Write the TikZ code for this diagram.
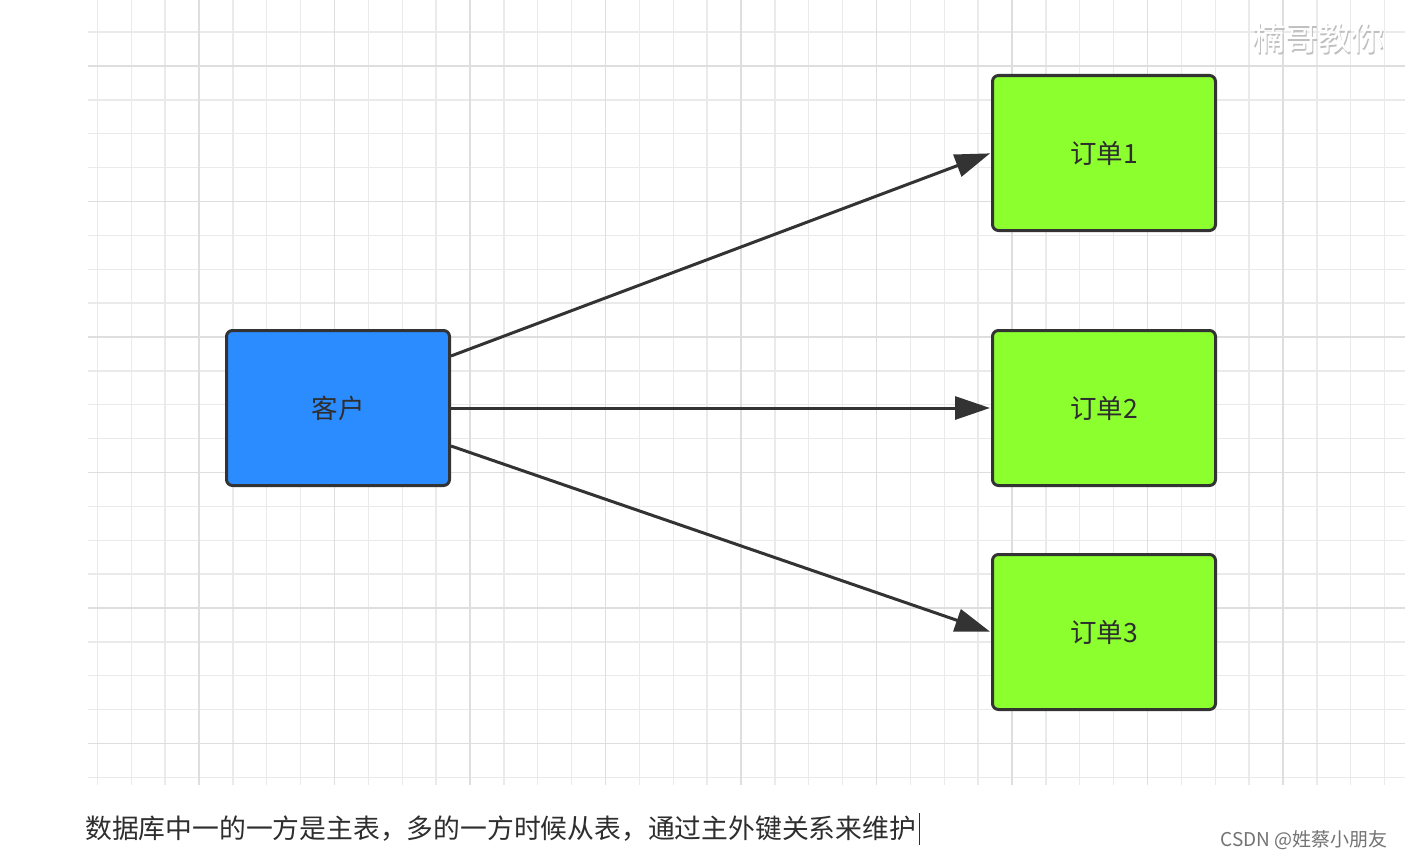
\documentclass[tikz,border=0pt]{standalone}
\usepackage{fontspec}
\newfontfamily\cjk{Noto Sans CJK SC}
\usetikzlibrary{arrows.meta,calc}
\definecolor{gridminor}{HTML}{EAEAEA}
\definecolor{gridmajor}{HTML}{DEDEDE}
\definecolor{boxblue}{HTML}{2B8CFF}
\definecolor{boxgreen}{HTML}{8CFF2E}
\definecolor{edge}{HTML}{333333}
\definecolor{textdark}{HTML}{2E2E2E}
\tikzset{
  tablebox/.style={draw=edge, line width=3pt, rounded corners=6pt,
    minimum width=223pt, minimum height=155pt, inner sep=0pt,
    font=\cjk\fontsize{26.5}{30}\selectfont, text=textdark},
  customer/.style={tablebox, fill=boxblue},
  order/.style={tablebox, fill=boxgreen},
  link/.style={draw=edge, line width=3pt, -{Triangle[length=35pt,width=23pt]}, shorten >=1pt},
}
\begin{document}
\begin{tikzpicture}[x=1pt,y=-1pt]
\useasboundingbox (0,0) rectangle (1405,859);
\fill[white] (0,0) rectangle (1405,859);
% grid
\begin{scope}
\clip (88,0) rectangle (1405,785);
\foreach \i in {-4,...,36} {
  \draw[gridminor, line width=1.3pt] ({199+\i*33.875},0) -- ({199+\i*33.875},785);
}
\foreach \i in {-2,...,22} {
  \draw[gridminor, line width=1.3pt] (88,{66+\i*33.875}) -- (1405,{66+\i*33.875});
}
\foreach \i in {-1,...,9} {
  \draw[gridmajor, line width=1.6pt] ({199+\i*135.5},0) -- ({199+\i*135.5},785);
}
\foreach \i in {0,...,5} {
  \draw[gridmajor, line width=1.6pt] (88,{66+\i*135.5}) -- (1405,{66+\i*135.5});
}
\end{scope}
% watermark top right
\node[anchor=west, text=black!25, font=\cjk\fontsize{33}{36}\selectfont, inner sep=0pt] (wmshadow) at (1253.5,39.5) {楠哥教你};
\node[anchor=west, text=white, font=\cjk\fontsize{33}{36}\selectfont, inner sep=0pt] (wm) at (1252,38) {楠哥教你};
% nodes
\node[customer] (kh) at (338,408) {客户};
\node[order] (d1) at (1104,153) {订单1};
\node[order] (d2) at (1104,408) {订单2};
\node[order] (d3) at (1104,632) {订单3};
% connectors
\draw[link] ([yshift=52pt]kh.east) -- (d1.west);
\draw[link] (kh.east) -- (d2.west);
\draw[link] ([yshift=-38pt]kh.east) -- (d3.west);
% caption
\node[anchor=base west, inner sep=0pt, text=textdark, font=\cjk\fontsize{26.8}{30}\selectfont] (cap) at (85,838) {数据库中一的一方是主表，多的一方时候从表，通过主外键关系来维护};
\coordinate (cur) at ($(cap.base east)+(3,0)$);
\draw[textdark, line width=1.2pt] ($(cur)+(0,-25)$) -- ($(cur)+(0,7)$);
\node[anchor=base east, inner sep=0pt, text=black!55, font=\cjk\fontsize{19}{22}\selectfont] (csdn) at (1388,846) {CSDN @姓蔡小朋友};
\end{tikzpicture}
\end{document}
